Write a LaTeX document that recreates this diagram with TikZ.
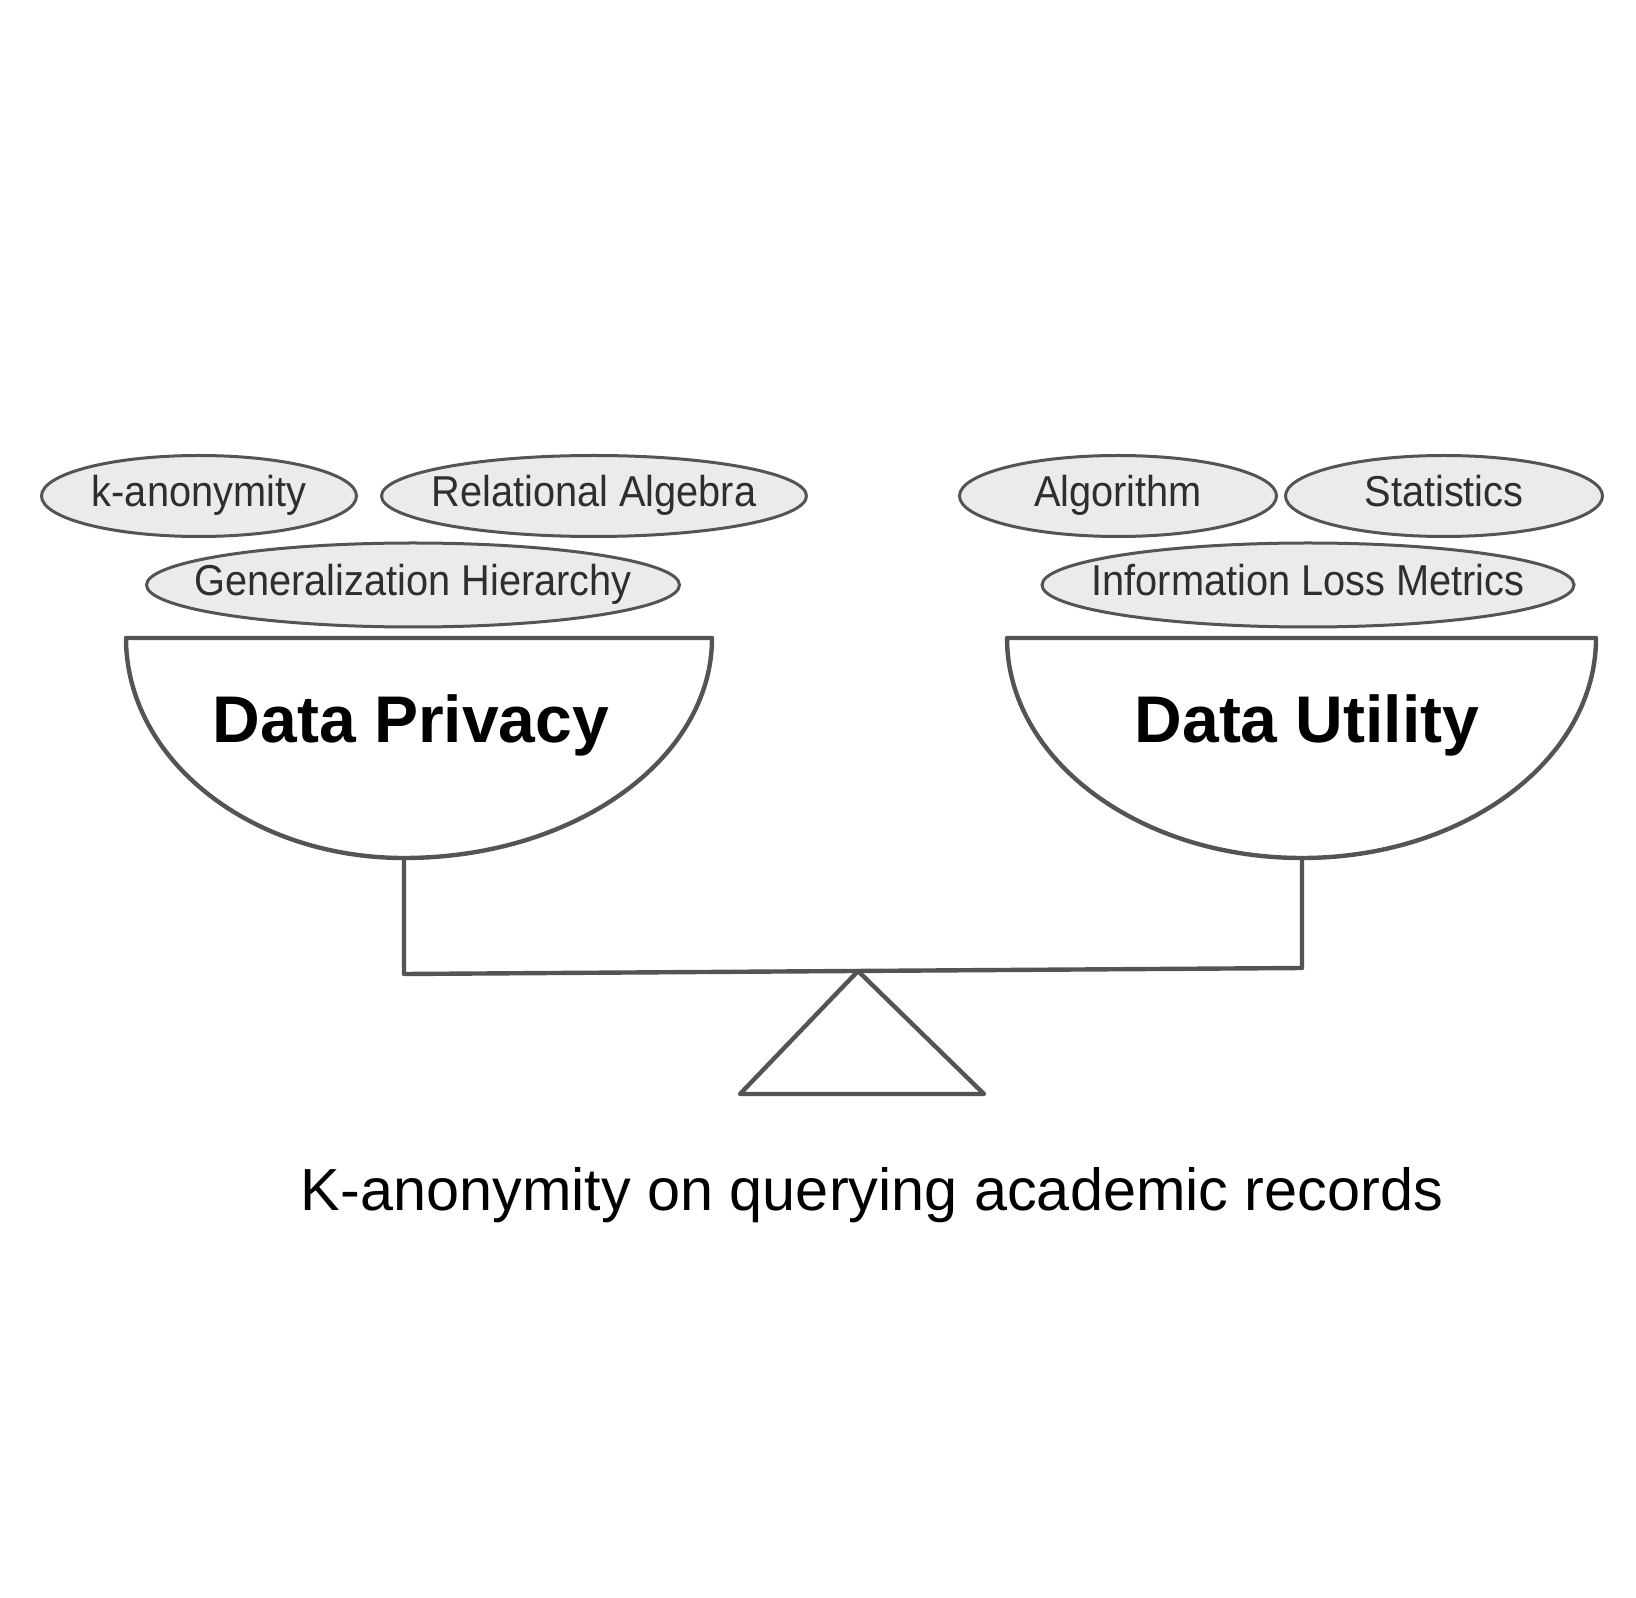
\documentclass[tikz,border=0pt]{standalone}
\usepackage{fontspec}
\setmainfont{Liberation Sans}
\newfontfamily\narrowsans[FakeStretch=0.92]{Liberation Sans}
\usepackage{xcolor}
\usetikzlibrary{shapes,positioning}
\definecolor{linegray}{gray}{0.33}
\definecolor{topicfill}{gray}{0.92}
\definecolor{topictext}{gray}{0.18}
% keep the text from widening the ellipse
\newcommand{\ctext}[1]{\makebox[0pt]{#1}}

\begin{document}
\begin{tikzpicture}[x=0.5pt,y=0.5pt,
 topic/.style={ellipse, draw=linegray, fill=topicfill, line width=1.5pt, inner sep=0pt,
   minimum height=40.5pt, text height=15.5pt, text depth=4.5pt, text=topictext,
   font=\narrowsans\fontsize{21.6}{24}\selectfont},
 pan/.style={draw=linegray, line width=2.2pt, line join=round},
 panlabel/.style={anchor=base, font=\bfseries\fontsize{33}{36}\selectfont}]
\useasboundingbox (0,0) rectangle (1636,1597);
% nodes
\node[topic, minimum width=157.5pt] (kanon) at (199,1101) {\ctext{k-anonymity}};
\node[topic, minimum width=212.5pt, right=11pt of kanon] (relalg) {\ctext{Relational Algebra}};
\node[topic, minimum width=266.5pt, minimum height=42pt] (genhier) at (413,1012) {\ctext{Generalization Hierarchy}};
\node[topic, minimum width=158.5pt] (algo) at (1118,1101) {\ctext{Algorithm}};
\node[topic, minimum width=158.5pt, right=3pt of algo] (stats) {\ctext{Statistics}};
\node[topic, minimum width=266pt, minimum height=42pt] (infoloss) at (1308,1012) {\ctext{Information Loss Metrics}};

\node[panlabel] (privacy) at (411,854) {Data Privacy};
\node[panlabel] (utility) at (1307,854) {Data Utility};
\node[anchor=base, font=\fontsize{29.7}{32}\selectfont] (caption) at (872,387)
 {K-anonymity on querying academic records};

% pans
\coordinate (pbot) at (404,739);
\coordinate (ubot) at (1302,739);
\draw[pan] (126,959) -- (712,959)
 arc[start angle=0, end angle=-90, x radius=308, y radius=220]
 arc[start angle=270, end angle=180, x radius=278, y radius=220] -- cycle;
\draw[pan] (1007,959) -- (1596,959)
 arc[start angle=0, end angle=-90, x radius=294, y radius=220]
 arc[start angle=270, end angle=180, x radius=295, y radius=220] -- cycle;

% beam and pivot
\coordinate (pend) at (404,623);
\coordinate (uend) at (1302,629);
\coordinate (pivot) at (858,626);
\draw[pan] (pbot) -- (pend) -- (uend) -- (ubot);
\draw[pan] (pivot) -- (740,503) -- (984,503) -- cycle;
\end{tikzpicture}
\end{document}
